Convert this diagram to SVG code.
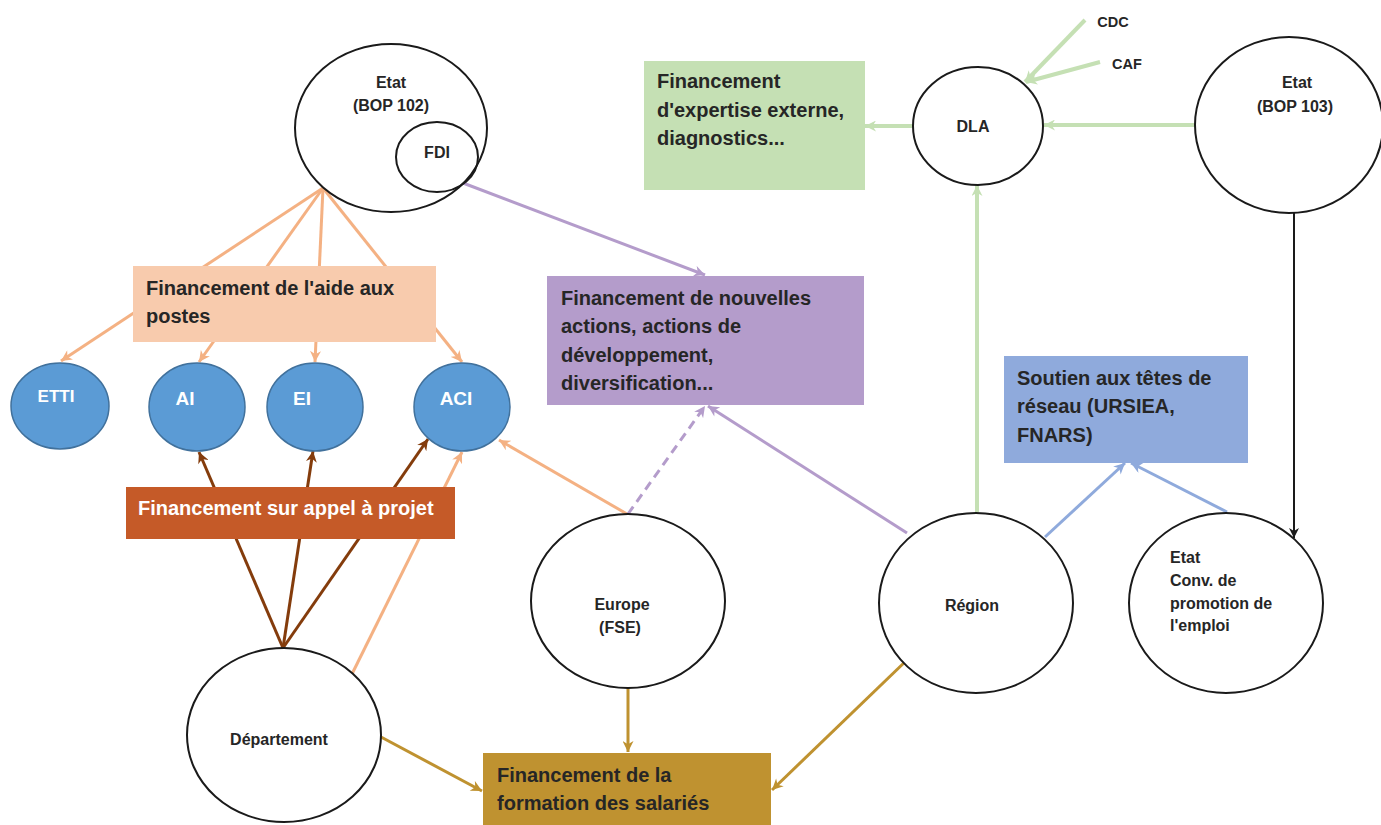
<svg xmlns="http://www.w3.org/2000/svg" width="1381" height="825" viewBox="0 0 1381 825">
<style>
text{font-family:"Liberation Sans",Arial,sans-serif;font-weight:bold;fill:#262626}
.n{font-size:16px}
.b{font-size:20px}
.w{fill:#ffffff}
.el{fill:#ffffff;stroke:#1a1a1a;stroke-width:2}
.bl{fill:#5B9BD5;stroke:#41719C;stroke-width:1.5}
.c{fill:none;stroke-width:3}
.peach{stroke:#F4B183}
.brown{stroke:#843C0C}
.purple{stroke:#B49CCB}
.gold{stroke:#BF9230}
.blue{stroke:#8FAADC}
.green{stroke:#C5E0B4;stroke-width:4}
.black{stroke:#1a1a1a;stroke-width:2}
</style>
<defs>
<marker id="mPeach" viewBox="0 0 10 10" refX="10" refY="5" markerWidth="12" markerHeight="11" markerUnits="userSpaceOnUse" orient="auto"><path d="M0,0 L10,5 L0,10 L3,5 z" fill="#F4B183"/></marker>
<marker id="mBrown" viewBox="0 0 10 10" refX="10" refY="5" markerWidth="12" markerHeight="11" markerUnits="userSpaceOnUse" orient="auto"><path d="M0,0 L10,5 L0,10 L3,5 z" fill="#843C0C"/></marker>
<marker id="mPurple" viewBox="0 0 10 10" refX="10" refY="5" markerWidth="12" markerHeight="11" markerUnits="userSpaceOnUse" orient="auto"><path d="M0,0 L10,5 L0,10 L3,5 z" fill="#B49CCB"/></marker>
<marker id="mGold" viewBox="0 0 10 10" refX="10" refY="5" markerWidth="12" markerHeight="11" markerUnits="userSpaceOnUse" orient="auto"><path d="M0,0 L10,5 L0,10 L3,5 z" fill="#BF9230"/></marker>
<marker id="mBlue" viewBox="0 0 10 10" refX="10" refY="5" markerWidth="12" markerHeight="11" markerUnits="userSpaceOnUse" orient="auto"><path d="M0,0 L10,5 L0,10 L3,5 z" fill="#8FAADC"/></marker>
<marker id="mGreen" viewBox="0 0 10 10" refX="10" refY="5" markerWidth="12" markerHeight="11" markerUnits="userSpaceOnUse" orient="auto"><path d="M0,0 L10,5 L0,10 L3,5 z" fill="#C5E0B4"/></marker>
<marker id="mBlack" viewBox="0 0 10 10" refX="10" refY="5" markerWidth="10" markerHeight="10" markerUnits="userSpaceOnUse" orient="auto"><path d="M0,0 L10,5 L0,10 L3,5 z" fill="#1a1a1a"/></marker>
</defs>
<rect width="1381" height="825" fill="#ffffff"/>

<g id="connectors">
<line class="c peach" x1="323" y1="188" x2="61" y2="361" marker-end="url(#mPeach)"/>
<line class="c peach" x1="323" y1="188" x2="199" y2="362" marker-end="url(#mPeach)"/>
<line class="c peach" x1="323" y1="188" x2="315" y2="362" marker-end="url(#mPeach)"/>
<line class="c peach" x1="323" y1="188" x2="462" y2="362" marker-end="url(#mPeach)"/>
<line class="c brown" x1="283" y1="648" x2="199" y2="452" marker-end="url(#mBrown)"/>
<line class="c brown" x1="283" y1="648" x2="313" y2="451" marker-end="url(#mBrown)"/>
<line class="c brown" x1="283" y1="648" x2="428" y2="439" marker-end="url(#mBrown)"/>
<line class="c peach" x1="352" y1="674" x2="462" y2="452" marker-end="url(#mPeach)"/>
<line class="c peach" x1="627" y1="514" x2="499" y2="440" marker-end="url(#mPeach)"/>
<line class="c purple" x1="463" y1="183" x2="705" y2="275" marker-end="url(#mPurple)"/>
<line class="c purple" x1="628" y1="514" x2="705" y2="406" stroke-dasharray="9,6" marker-end="url(#mPurple)"/>
<line class="c purple" x1="907" y1="533" x2="708" y2="406" marker-end="url(#mPurple)"/>
<line class="c gold" x1="628" y1="688" x2="628" y2="752" marker-end="url(#mGold)"/>
<line class="c gold" x1="381" y1="737" x2="482" y2="791" marker-end="url(#mGold)"/>
<line class="c gold" x1="908" y1="659" x2="772" y2="790" marker-end="url(#mGold)"/>
<line class="c blue" x1="1045" y1="537" x2="1125" y2="463" marker-end="url(#mBlue)"/>
<line class="c blue" x1="1227" y1="512" x2="1131" y2="463" marker-end="url(#mBlue)"/>
<line class="c black" x1="1294" y1="212" x2="1294" y2="538" marker-end="url(#mBlack)"/>
<line class="c green" x1="977" y1="512" x2="977" y2="185" marker-end="url(#mGreen)"/>
<line class="c green" x1="913" y1="126" x2="865" y2="126" marker-end="url(#mGreen)"/>
<line class="c green" x1="1195" y1="125" x2="1044" y2="125" marker-end="url(#mGreen)"/>
<line class="c green" x1="1085" y1="20" x2="1025" y2="82" marker-end="url(#mGreen)"/>
<line class="c green" x1="1100" y1="62" x2="1026" y2="82" marker-end="url(#mGreen)"/>
</g>

<g id="etat-bop102">
<ellipse class="el" cx="391" cy="128" rx="96" ry="84"/>
<text class="n" x="391" y="88" text-anchor="middle">Etat</text>
<text class="n" x="391" y="111" text-anchor="middle">(BOP 102)</text>
</g>
<g id="fdi">
<ellipse class="el" cx="437" cy="157" rx="41" ry="35" style="fill:none"/>
<text class="n" x="437" y="158" text-anchor="middle">FDI</text>
</g>

<g id="aide-postes">
<rect x="133" y="266" width="303" height="76" fill="#F8CBAD"/>
<text class="b" x="146" y="295">Financement de l'aide aux</text>
<text class="b" x="146" y="323">postes</text>
</g>

<g id="etti">
<ellipse class="bl" cx="60" cy="406" rx="49" ry="43"/>
<text class="w" x="56" y="402" text-anchor="middle" font-size="17">ETTI</text>
</g>
<g id="ai">
<ellipse class="bl" cx="197" cy="407" rx="48" ry="44"/>
<text class="w" x="185" y="405" text-anchor="middle" font-size="19">AI</text>
</g>
<g id="ei">
<ellipse class="bl" cx="315" cy="407" rx="48" ry="44"/>
<text class="w" x="302" y="405" text-anchor="middle" font-size="19">EI</text>
</g>
<g id="aci">
<ellipse class="bl" cx="462" cy="407" rx="48" ry="44"/>
<text class="w" x="456" y="405" text-anchor="middle" font-size="19">ACI</text>
</g>

<g id="appel-projet">
<rect x="126" y="487" width="329" height="52" fill="#C55A28"/>
<text class="b w" x="138" y="515">Financement sur appel à projet</text>
</g>

<g id="departement">
<ellipse class="el" cx="284" cy="735" rx="97" ry="87"/>
<text class="n" x="279" y="745" text-anchor="middle">Département</text>
</g>

<g id="nouvelles-actions">
<rect x="547" y="276" width="317" height="129" fill="#B49CCB"/>
<text class="b" x="561" y="305">Financement de nouvelles</text>
<text class="b" x="561" y="333">actions, actions de</text>
<text class="b" x="561" y="362">développement,</text>
<text class="b" x="561" y="390">diversification...</text>
</g>

<g id="europe">
<ellipse class="el" cx="628" cy="601" rx="97" ry="87"/>
<text class="n" x="622" y="610" text-anchor="middle">Europe</text>
<text class="n" x="620" y="633" text-anchor="middle">(FSE)</text>
</g>

<g id="formation">
<rect x="483" y="753" width="288" height="74" fill="#BF9230"/>
<text class="b" x="497" y="782">Financement de la</text>
<text class="b" x="497" y="810">formation des salariés</text>
</g>

<g id="region">
<ellipse class="el" cx="976" cy="603" rx="97" ry="90"/>
<text class="n" x="972" y="611" text-anchor="middle">Région</text>
</g>

<g id="etat-conv">
<ellipse class="el" cx="1226" cy="603" rx="97" ry="90"/>
<text class="n" x="1170" y="563">Etat</text>
<text class="n" x="1170" y="586">Conv. de</text>
<text class="n" x="1170" y="609">promotion de</text>
<text class="n" x="1170" y="631">l'emploi</text>
</g>

<g id="tetes-reseau">
<rect x="1004" y="356" width="244" height="107" fill="#8FAADC"/>
<text class="b" x="1017" y="385">Soutien aux têtes de</text>
<text class="b" x="1017" y="413">réseau (URSIEA,</text>
<text class="b" x="1017" y="442">FNARS)</text>
</g>

<g id="expertise">
<rect x="644" y="61" width="221" height="129" fill="#C5E0B4"/>
<text class="b" x="657" y="88">Financement</text>
<text class="b" x="657" y="117">d'expertise externe,</text>
<text class="b" x="657" y="145">diagnostics...</text>
</g>

<g id="dla">
<ellipse class="el" cx="978" cy="126" rx="65" ry="59"/>
<text class="n" x="973" y="132" text-anchor="middle">DLA</text>
</g>

<g id="etat-bop103">
<ellipse class="el" cx="1289" cy="125" rx="94" ry="88"/>
<text class="n" x="1297" y="88" text-anchor="middle">Etat</text>
<text class="n" x="1295" y="112" text-anchor="middle">(BOP 103)</text>
</g>

<g id="cdc"><text x="1113" y="27" text-anchor="middle" font-size="14.5">CDC</text></g>
<g id="caf"><text x="1127" y="69" text-anchor="middle" font-size="14.5">CAF</text></g>
</svg>
